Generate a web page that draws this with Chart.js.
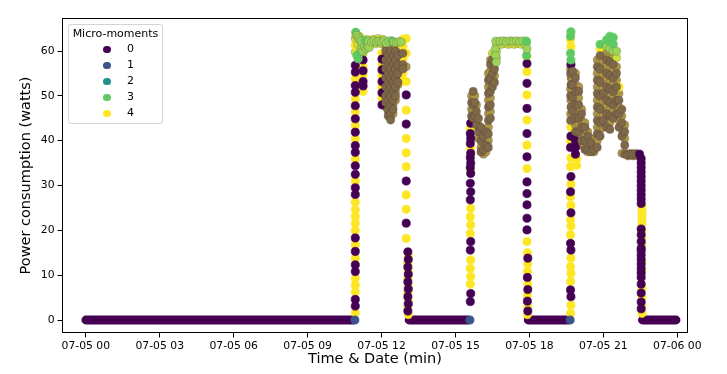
<!DOCTYPE html>
<html>
<head>
<meta charset="utf-8">
<script src="https://cdn.jsdelivr.net/npm/chart.js@4.4.1/dist/chart.umd.min.js"></script>
<style>
  body { margin: 0; background: #fff; }
  #wrap { position: relative; width: 727px; height: 374px; }
  #legend { position: absolute; left: 68px; top: 24px; width: 93px; height: 98px;
            border: 1px solid #d4d4d4; border-radius: 3px; background: rgba(255,255,255,0.8);
            font-family: "DejaVu Sans"; color: #000; }
  #legend .title { position: absolute; left: 0; right: 0; top: 2px; text-align: center; font-size: 11px; }
  #legend .row { position: absolute; left: 0; width: 100%; height: 16px; line-height: 16px; font-size: 11px; }
  #legend .dot { position: absolute; left: 34px; top: 4.5px; width: 7.5px; height: 7.5px; border-radius: 50%; }
  #legend .lab { position: absolute; left: 58px; }
</style>
</head>
<body>
<div id="wrap">
  <canvas id="chart" width="727" height="374"></canvas>
  <div id="legend"><div class="title">Micro-moments</div></div>
</div>
<script>
// ---------------- DATA ----------------
const moments = ["0", "1", "2", "3", "4"];
const colors = ["#440154", "#3b528b", "#21918c", "#5ec962", "#fde725"];

const xTickMinutes = [0, 180, 360, 540, 720, 900, 1080, 1260, 1440];
const xTickLabels = ["07-05 00", "07-05 03", "07-05 06", "07-05 09", "07-05 12",
                     "07-05 15", "07-05 18", "07-05 21", "07-06 00"];
const yTicks = [0, 10, 20, 30, 40, 50, 60];

// stretches of micro-moment 0 sitting at 0 W: [from min, to min]
const zeroRuns = [[0, 652], [787, 931], [1077, 1175], [1355, 1437]];

// readings per minute: [minute of day, [watts, ...]]
const m0 = [
  [656, [3.1, 4.6, 10.8, 12.3, 15.3, 18.3, 28, 29.5, 32.5, 34.4, 37.4, 38.9, 41.9, 44.9, 47.8, 50.8, 52.3, 55.3, 56.8]],
  [675, [58, 55.6, 53.2, 52.2]],
  [721, [58.2, 55.8, 53.2, 50.7, 48]],
  [730, [60, 58, 56, 54, 52, 50, 48.5]],
  [736, [59, 57, 55, 53, 51, 49, 47, 45.5]],
  [742, [60, 58, 56, 54, 52, 50, 48, 46, 44.6]],
  [748, [59, 57, 55, 53, 51, 49, 47]],
  [754, [60, 58, 56, 54, 52, 50]],
  [760, [59, 57, 55, 53]],
  [772, [59.5, 57, 56]],
  [780, [50.2, 43.7, 31, 21.6]],
  [784, [15.2, 11.8, 8.5, 5.2, 2]],
  [785, [13.5, 10.2, 6.9, 3.6]],
  [936, [4.1, 15.6, 26.8, 30.5, 34, 36.2, 39.4, 41.6]],
  [937, [5.9, 17.5, 28.6, 32.7, 35, 37.2, 40.5, 43.9]],
  [939, [45.5, 48.5]],
  [943, [51, 48, 45]],
  [947, [48.5, 45.5]],
  [951, [46.5, 43.5]],
  [956, [45, 42]],
  [962, [43, 40, 37.5]],
  [968, [41, 38]],
  [974, [42, 39]],
  [980, [38.5, 41.5, 44.5, 47.5, 50.5, 53.5]],
  [985, [45, 48, 51, 54, 57]],
  [990, [52, 55, 58]],
  [995, [53, 56]],
  [1074, [57.2, 52.8, 47.2, 41.6, 36.4, 30.8, 28.2, 25.7, 22.7, 20.1]],
  [1075, [9.5, 4.2]],
  [1076, [13.8, 6.8, 2]],
  [1180, [6.7, 17.1, 28.6, 38.5, 44.5, 50, 55]],
  [1181, [5.2, 15.6, 23.9, 32, 41, 47.5, 52.5, 57]],
  [1185, [55.5, 52.5, 49.5, 46.5]],
  [1192, [54, 51, 48, 45, 42, 40, 38.5, 37]],
  [1200, [51, 48, 45, 42]],
  [1207, [46, 43, 40]],
  [1215, [43, 40, 38]],
  [1222, [41, 38]],
  [1230, [39.5, 37.5]],
  [1237, [38]],
  [1245, [38.5, 41.5, 44.5, 47.5, 50.5, 53.5, 56.5]],
  [1252, [41, 44, 47, 50, 53, 56, 59]],
  [1260, [44.5, 50.5]],
  [1268, [43, 46, 49, 52, 55, 58]],
  [1276, [42.5, 45.5, 48.5, 51.5, 54.5, 57.5]],
  [1284, [45, 48, 51, 54, 57]],
  [1292, [46, 49, 52, 55]],
  [1298, [43, 46, 49]],
  [1305, [41, 44, 47]],
  [1312, [39, 42, 37]],
  [1318, [36.8]], [1324, [37]], [1330, [36.8]], [1336, [37]], [1342, [36.8]], [1348, [37]],
  [1352, [36, 35, 34, 33, 32, 31, 30, 29, 28, 27, 26, 20.3, 19, 17.5, 16, 15.5, 14.5, 13.5,
          12.5, 11.5, 10.5, 9.5, 8, 6, 4, 2.5]]
];

const m1 = [[655, [0]], [935, [0]], [1179, [0]]];

const m2 = [];

const m3 = [
  [657, [64.2]], [660, [63.5, 59]], [663, [58.3]], [664, [63]], [666, [59.5]], [668, [62.5]],
  [670, [60.5]], [672, [62.2]], [674, [60]], [678, [61]], [680, [62.3]], [682, [60.5]],
  [686, [61]], [688, [62.2]], [690, [60.8]], [696, [62]], [702, [62.3]], [708, [62]],
  [714, [62.2]], [720, [62]], [726, [62.3]], [732, [61.8]], [738, [62.2]], [744, [62.3]],
  [750, [62]], [756, [61.9]], [762, [62.1]], [768, [62]],
  [997, [60.5]], [998, [59, 62.2]], [999, [57.5]], [1008, [62.2]], [1016, [62.3]],
  [1024, [62.1]], [1032, [62.3]], [1040, [62.2]], [1048, [62.3]], [1056, [62.1]],
  [1064, [62.3]], [1072, [62.2]], [1073, [62, 59]], [1074, [60.5]],
  [1180, [59.5, 63.3]], [1181, [58, 64.3]],
  [1252, [61.5]], [1268, [61, 62.5]], [1276, [60.5, 62, 63.3]], [1284, [60, 61.5, 63]], [1292, [60]]
];

const m4 = [
  [656, [1.6, 6.3, 7.8, 9.3, 13.8, 16.8, 20, 21.6, 23.1, 24.6, 26.3, 31, 35.9, 40.4, 43.4, 46.4,
         49.3, 53.8, 59.8, 61.3, 62.8]],
  [658, [63.6]], [662, [61.5]], [666, [63.3]], [670, [61.8]],
  [675, [59.5, 56.5, 54.6, 51]],
  [684, [62.6]], [693, [61.8]], [699, [62.6]], [705, [61.6]], [711, [62.8]], [717, [61.7]],
  [721, [59.5, 57, 54.5, 52, 49.5]],
  [723, [62.6]],
  [730, [61, 59, 57, 55, 53, 51, 49.5, 47.5]],
  [736, [60, 58, 56, 54, 52, 50, 48, 46.5]],
  [742, [61, 59, 57, 55, 53, 51, 49, 47, 45.3]],
  [748, [60, 58, 56, 54, 52, 50, 48, 46]],
  [754, [61, 59, 57, 55, 53, 51, 49]],
  [760, [60, 58, 56, 54, 52.5]],
  [766, [61.5]],
  [772, [61, 58.2, 55, 53.3, 62.6]],
  [780, [62.8, 59.5, 56.5, 53.2, 46.8, 40.5, 37.3, 34.2, 27.9, 24.7, 18.2]],
  [784, [12.7, 9.3, 6, 2.8]],
  [785, [14.3, 11, 7.7, 4.4, 1.2]],
  [936, [8, 11.5, 19.3, 23, 33.5, 42.7]],
  [937, [9.7, 13.4, 21.2, 24.9, 38.3]],
  [939, [47, 50]],
  [943, [49.5, 46.5]],
  [947, [50, 47]],
  [951, [48, 45]],
  [956, [43.5, 40.5]],
  [962, [41.5, 38.5]],
  [968, [39.5, 37]],
  [974, [40.5, 37.5]],
  [980, [40, 43, 46, 49, 52, 55]],
  [985, [46.5, 49.5, 52.5, 55.5, 58]],
  [990, [53.5, 56.5, 59.5]],
  [995, [54.5, 57.5, 59]],
  [1000, [58.5, 60, 61.6]],
  [1004, [61.6]], [1012, [61.5]], [1020, [61.7]], [1028, [61.5]], [1036, [61.6]],
  [1044, [61.5]], [1052, [61.7]], [1060, [61.5]], [1068, [61.6]],
  [1074, [58.7, 55.4, 50.2, 44.6, 39, 33.8, 17.5]],
  [1075, [15, 10.8, 5.5, 1.2]],
  [1076, [12.5, 8, 3]],
  [1180, [1.5, 8.6, 11.9, 19, 22.3, 27.5, 34.2, 40, 46, 51.5, 56, 62.5]],
  [1181, [3.3, 10.4, 13.8, 20.9, 25.6, 30.3, 36.1, 43, 49, 54, 61]],
  [1185, [54, 51, 48, 45]],
  [1192, [55, 52.5, 49.5, 46.5, 43.5]],
  [1195, [36, 34.5]],
  [1200, [52, 49.5, 46.5, 43.5, 40.5]],
  [1207, [47, 44.5, 41.5, 39]],
  [1215, [44, 41.5, 39]],
  [1222, [42, 39.5, 37.5]],
  [1230, [40.5, 38.5]],
  [1237, [39.5, 37.5]],
  [1245, [40, 43, 46, 49, 52, 55, 58]],
  [1252, [42.5, 45.5, 48.5, 51.5, 54.5, 57.5, 60.5]],
  [1260, [43, 46, 49, 52, 55, 58]],
  [1268, [44.5, 47.5, 50.5, 53.5, 56.5, 59.5]],
  [1276, [44, 47, 50, 53, 56, 59]],
  [1284, [46.5, 49.5, 52.5, 55.5, 58.5]],
  [1292, [47.5, 50.5, 53.5, 56.5, 58.5]],
  [1298, [44.5, 47.5, 50.5, 52]],
  [1305, [42.5, 45.5, 37.2]],
  [1312, [40.5, 43.5]],
  [1315, [37.2]], [1321, [36.6]], [1327, [37.2]], [1333, [36.6]], [1339, [37.2]], [1345, [36.6]],
  [1354, [25.5, 24.5, 23.5, 22.5, 21.5, 19.8, 18.3, 16.8, 13, 11, 7, 5, 3, 1.5]]
];

// ---------------- HELPERS ----------------
function toPoints(cols) {
  return cols.flatMap(([t, ws]) => ws.map(w => ({ x: t, y: w })));
}

function runPoints(runs) {
  let pts = [];
  runs.forEach(r => {
    pts.push({ x: r[0], y: 0 }, { x: r[1], y: 0 }, { x: r[1], y: null });
  });
  return pts;
}

const series = [m0, m1, m2, m3, m4].map(toPoints);

// overplotted dots of two moments (slow stretches, not the fast on/off edges) blend into one tone
const tints = { "0-4": "#7d6848", "4-0": "#ad9746", "3-4": "#9ad556", "4-3": "#cbe03c" };
series.forEach((pts, a) => {
  pts.forEach(p => {
    [0, 3, 4].forEach(b => {
      let key = a + "-" + b;
      if (b === a || p.tint || !tints[key]) return;
      let near = series[b].filter(q => Math.abs(q.x - p.x) <= 8 && Math.abs(q.y - p.y) <= 2.2);
      if (near.length >= 2 && near.some(q => Math.abs(q.x - p.x) >= 3)) p.tint = tints[key];
    });
  });
});

const FONT = "DejaVu Sans";
Chart.defaults.font.family = FONT;
Chart.defaults.color = "#000";

const drawOrder = [4, 1, 2, 3, 5];   // higher order is painted first

let datasets = series.map((pts, i) => ({
  label: moments[i],
  data: pts,
  backgroundColor: c => (c.raw && c.raw.tint) || colors[i],
  borderColor: c => (c.raw && c.raw.tint) ? "rgba(60,30,50,0.3)" : colors[i],
  borderWidth: 0.7,
  pointRadius: 4.1,
  order: drawOrder[i]
}));

datasets.push({
  type: "line",
  label: "0 (idle)",
  data: runPoints(zeroRuns),
  borderColor: colors[0],
  borderWidth: 8.8,
  borderCapStyle: "round",
  pointRadius: 0,
  spanGaps: false,
  order: 10
});

// ---------------- FRAME ----------------
const frame = {
  id: "frame",
  afterDatasetsDraw(chart) {
    const { ctx, chartArea: a } = chart;
    ctx.save();
    ctx.strokeStyle = "#000";
    ctx.lineWidth = 1;
    ctx.strokeRect(a.left + 0.5, a.top + 0.5, a.right - a.left - 1, a.bottom - a.top - 1);
    ctx.restore();
  }
};

// ---------------- CHART ----------------
new Chart(document.getElementById("chart"), {
  type: "scatter",
  data: { datasets: datasets },
  options: {
    responsive: false,
    animation: false,
    devicePixelRatio: 1,
    events: [],
    layout: { padding: { top: 18, right: 39, bottom: 0, left: 0 } },
    plugins: { legend: { display: false }, tooltip: { enabled: false } },
    scales: {
      x: {
        type: "linear",
        min: -58,
        max: 1466,
        afterBuildTicks: s => { s.ticks = xTickMinutes.map(v => ({ value: v })); },
        afterFit: s => { s.height = 41; },
        ticks: {
          callback: (v, i) => xTickLabels[i],
          font: { size: 10.8 },
          padding: 2,
          maxRotation: 0,
          autoSkip: false
        },
        grid: { drawOnChartArea: false, tickLength: 4.5, color: "#000" },
        border: { display: false },
        title: { display: true, text: "Time & Date (min)", font: { size: 14.5 }, padding: { top: 0, bottom: 6 } }
      },
      y: {
        min: -2.9,
        max: 67.37,
        afterBuildTicks: s => { s.ticks = yTicks.map(v => ({ value: v })); },
        afterFit: s => { s.width = 62; },
        ticks: { font: { size: 10.8 }, padding: 3 },
        grid: { drawOnChartArea: false, tickLength: 4.5, color: "#000" },
        border: { display: false },
        title: { display: true, text: "Power consumption (watts)", font: { size: 14.5 }, padding: { top: 18, bottom: 0 } }
      }
    }
  },
  plugins: [frame]
});

// ---------------- LEGEND ----------------
const legendBox = document.getElementById("legend");
moments.forEach((m, i) => {
  let row = document.createElement("div");
  row.className = "row";
  row.style.top = (16 + i * 16.1) + "px";
  row.innerHTML = '<span class="dot" style="background:' + colors[i] + '"></span><span class="lab">' + m + "</span>";
  legendBox.appendChild(row);
});
</script>
</body>
</html>
